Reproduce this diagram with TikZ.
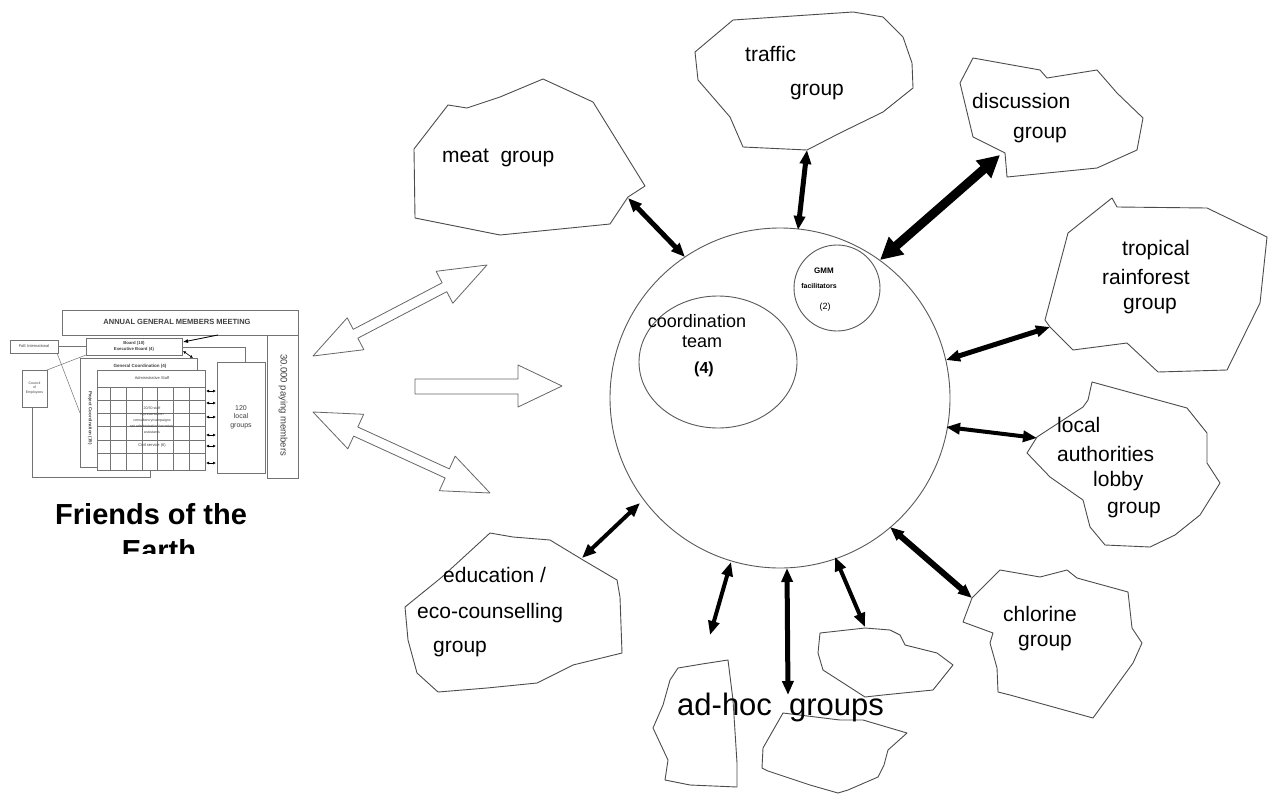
\documentclass[tikz,border=0pt]{standalone}
\usepackage{fontspec}
\setmainfont{Liberation Sans}
\usetikzlibrary{calc,arrows.meta}
\newcommand\hollowDouble[5]{%
  \path ($(#1)!#3!(#2)$) coordinate (hda) ($(#2)!#3!(#1)$) coordinate (hdb);
  \draw[hollow] (#1) -- ($(hda)!#5!90:(#2)$) -- ($(hda)!#4!90:(#2)$)
    -- ($(hdb)!#4!-90:(#1)$) -- ($(hdb)!#5!-90:(#1)$) -- (#2)
    -- ($(hdb)!#5!90:(#1)$) -- ($(hdb)!#4!90:(#1)$)
    -- ($(hda)!#4!-90:(#2)$) -- ($(hda)!#5!-90:(#2)$) -- cycle;}
\begin{document}
\begin{tikzpicture}[x=1pt,y=-1pt,
  blob/.style={draw=black!70, line width=0.9pt, line join=round},
  ring/.style={draw=black!65, line width=0.9pt},
  lbl/.style={anchor=base west, inner sep=0, font=\fontsize{21}{25}\selectfont},
  clbl/.style={anchor=base, inner sep=0, font=\fontsize{18}{22}\selectfont},
  hollow/.style={draw=black!60, line width=0.8pt, fill=white, line join=round},
  link/.style={draw=black, line width=#1, {Triangle[length=14pt,width=11pt]}-{Triangle[length=14pt,width=11pt]}},
  oc/.style={draw=black!55, line width=0.5pt, fill=white},
  ocl/.style={draw=black!55, line width=0.5pt},
  oct/.style={inner sep=0, font=\fontsize{4}{5}\selectfont, text=black!75}]
\useasboundingbox (0,0) rectangle (1268,800);
\fill[white] (0,0) rectangle (1268,800);

% ---------------- organisation chart ----------------
\draw[ocl] (32,407) -- (32,477) -- (150,477) -- (150,470);
\draw[oc] (267,335) rectangle (298,478);
\node[oc, minimum width=236pt, minimum height=25pt, anchor=north west] (agmm) at (62,310) {};
\node[oct, font=\bfseries\fontsize{7.5}{8}\selectfont] at (177,322) {ANNUAL GENERAL MEMBERS MEETING};
\draw[ocl] (58,346) -- (86,346);
\draw[ocl] (86,355) -- (47,370);
\draw[ocl] (57,353) -- (80,413);
\draw[ocl] (182,347) -- (245,347) -- (245,362);
\node[oc, minimum width=48pt, minimum height=111pt, anchor=north west] (loc) at (217,362) {};
\node[oct, font=\fontsize{7}{8.5}\selectfont, align=center] at (241,417) {120\\local\\groups};
\node[oc, minimum width=117pt, minimum height=109pt, anchor=north west] (gc) at (80,358) {};
\node[oct, font=\bfseries\fontsize{4.5}{5}\selectfont] at (140,366) {General Coordination (4)};
\node[oct, font=\bfseries\fontsize{4.5}{5}\selectfont, rotate=-90] at (90,418) {Project Coordination (15)};
\node[oc, minimum width=108pt, minimum height=100pt, anchor=north west] (grid) at (97,370) {};
\foreach \yy in {387,400,413,426,440,453} \draw[ocl] (97,\yy) -- (205,\yy);
\foreach \xx in {110,126,142,157,173,189} \draw[ocl] (\xx,387) -- (\xx,470);
\node[oct] at (152,378) {Administrative Staff};
\node[oct, align=center, font=\fontsize{3.6}{6}\selectfont] at (152,420) {20/30 staff\\representation\\consultancy/campaigns\\net administration/secretary\\assistants};
\node[oct] at (152,445) {Civil service (6)};
\node[oc, minimum width=96pt, minimum height=17pt, anchor=north west] (board) at (86,338) {};
\node[oct, font=\bfseries\fontsize{4.3}{5}\selectfont, align=center] at (134,346.5) {Board (10)\\[1pt]Executive Board (4)};
\node[oc, minimum width=48pt, minimum height=13pt, anchor=north west] (foei) at (10,340) {};
\node[oct] at (34,346.5) {FoE International};
\node[oc, minimum width=25pt, minimum height=37pt, anchor=north west] (coe) at (22,370) {};
\node[oct, font=\fontsize{3.5}{4.5}\selectfont, align=center] at (34.5,388) {Council\\of\\Employees};
\node[oct, font=\fontsize{9.5}{10}\selectfont, rotate=-90] at (283,405) {30.000 paying members};
\coordinate (ar1) at (218,335); \coordinate (ar2) at (183,342);
\draw[line width=0.8pt, -{Latex[length=5pt,width=4pt]}] (ar1) -- (ar2);
\coordinate (ar3) at (183,351); \coordinate (ar4) at (193,358);
\draw[line width=0.6pt, {Latex[length=3pt,width=3pt]}-{Latex[length=3pt,width=3pt]}] (ar3) -- (ar4);
\foreach \yy in {391,403,417,435,446,463}
  \draw[line width=0.6pt, {Latex[length=3pt,width=3pt]}-{Latex[length=3pt,width=3pt]}] (206,\yy) -- (216,\yy);

\node[anchor=base west, inner sep=0, font=\bfseries\fontsize{29}{33}\selectfont] (foe) at (55,524) {Friends of the};
\begin{scope}
  \clip (0,530) rectangle (320,553);
  \node[anchor=base, inner sep=0, font=\bfseries\fontsize{29}{33}\selectfont] (earth) at (159,560) {Earth};
\end{scope}

% ---------------- hollow arrows ----------------
\coordinate (ha1) at (313,356); \coordinate (hb1) at (487,265);
\hollowDouble{ha1}{hb1}{48pt}{5pt}{18pt}
\coordinate (ha2) at (313,412); \coordinate (hb2) at (490,493);
\hollowDouble{ha2}{hb2}{47pt}{5pt}{19pt}
\draw[hollow] (415,379) -- (518,379) -- (518,365) -- (562,386) -- (518,407) -- (518,394) -- (415,394) -- cycle;

% ---------------- circles ----------------
\node[ring, circle, minimum size=340pt, inner sep=0] (main) at (780,398) {};
\draw[ring] (718,362) ellipse [x radius=79, y radius=66];
\node[ring, circle, minimum size=86pt, inner sep=0] (gmm) at (837,288) {};
\node[clbl] at (697,327) {coordination};
\node[clbl] at (702,347) {team};
\node[clbl, font=\bfseries\fontsize{16}{20}\selectfont] at (704,373) {(4)};
\node[anchor=base, inner sep=0, font=\bfseries\fontsize{8}{9}\selectfont] at (824,273) {GMM};
\node[anchor=base, inner sep=0, font=\bfseries\fontsize{7}{9}\selectfont] at (819,288) {facilitators};
\node[anchor=base, inner sep=0, font=\fontsize{9}{10}\selectfont] at (825,309) {(2)};

% ---------------- group blobs ----------------
% meat
\draw[blob] (448,105) -- (467,108) -- (500,97) -- (543,79) -- (593,102) -- (645,186) -- (628,197) -- (610,224) -- (500,235) -- (415,218) -- (414,149) -- cycle;
\node[lbl] at (442,162) {meat\ \ group};
% traffic
\draw[blob] (695,52) -- (733,20) -- (853,12) -- (883,17) -- (903,37) -- (912,63) -- (913,88) -- (883,112) -- (840,133) -- (807,150) -- (743,147) -- (730,117) -- (698,80) -- cycle;
\node[lbl] at (745,62) {traffic};
\node[lbl] at (790,95) {group};
% discussion
\draw[blob] (973,58) -- (1040,70) -- (1047,78) -- (1097,70) -- (1117,93) -- (1143,118) -- (1137,150) -- (1097,168) -- (1007,177) -- (1005,153) -- (973,137) -- (960,83) -- cycle;
\node[lbl] at (972,108) {discussion};
\node[lbl] at (1013,138) {group};
% tropical rainforest
\draw[blob] (1068,233) -- (1112,198) -- (1117,207) -- (1207,208) -- (1267,237) -- (1260,303) -- (1227,370) -- (1158,372) -- (1127,343) -- (1073,350) -- (1050,327) -- (1045,320) -- cycle;
\node[lbl] at (1122,255) {tropical};
\node[lbl] at (1102,284) {rainforest};
\node[lbl] at (1123,309) {group};
% local authorities
\draw[blob] (1092,382) -- (1187,408) -- (1207,433) -- (1207,463) -- (1220,483) -- (1200,515) -- (1175,535) -- (1150,547) -- (1105,545) -- (1090,527) -- (1083,500) -- (1050,477) -- (1027,453) -- (1037,437) -- (1083,407) -- (1088,400) -- cycle;
\node[lbl] at (1057,432) {local};
\node[lbl] at (1057,461) {authorities};
\node[lbl] at (1093,486) {lobby};
\node[lbl] at (1107,513) {group};
% chlorine
\draw[blob] (1000,570) -- (1040,577) -- (1067,570) -- (1077,578) -- (1128,592) -- (1132,628) -- (1142,643) -- (1133,663) -- (1093,718) -- (1010,695) -- (998,692) -- (997,668) -- (990,643) -- (993,633) -- (963,622) -- (972,598) -- cycle;
\node[lbl] at (1003,621) {chlorine};
\node[lbl] at (1018,646) {group};
% education
\draw[blob] (490,533) -- (513,537) -- (550,540) -- (583,560) -- (617,580) -- (620,597) -- (622,653) -- (573,665) -- (537,683) -- (487,688) -- (438,692) -- (417,673) -- (408,640) -- (405,607) -- (442,577) -- cycle;
\node[lbl] at (443,582) {education /};
\node[lbl] at (417,618) {eco-counselling};
\node[lbl] at (433,652) {group};
% ad-hoc blobs
\draw[blob] (678,668) -- (702,664) -- (728,660) -- (733,700) -- (737,763) -- (737,787) -- (690,785) -- (665,780) -- (668,760) -- (653,728) -- (663,705) -- (670,680) -- cycle;
\draw[blob] (820,633) -- (865,628) -- (890,630) -- (900,635) -- (905,645) -- (937,653) -- (953,665) -- (933,690) -- (883,695) -- (865,697) -- (823,670) -- (818,653) -- cycle;
\draw[blob] (783,713) -- (840,720) -- (863,720) -- (907,733) -- (888,750) -- (884,765) -- (878,777) -- (848,790) -- (838,793) -- (810,785) -- (768,771) -- (762,768) -- (763,748) -- cycle;
\node[anchor=base west, inner sep=0, font=\fontsize{31}{35}\selectfont] at (677,715) {ad-hoc\ \ groups};

% ---------------- connectors ----------------
\coordinate (c-meat) at (685,257);   \coordinate (g-meat) at (628,198);
\coordinate (c-traf) at (798,230);   \coordinate (g-traf) at (807,150);
\coordinate (c-disc) at (880,260);   \coordinate (g-disc) at (1000,155);
\coordinate (c-trop) at (946,360);   \coordinate (g-trop) at (1050,327);
\coordinate (c-loca) at (946,427);   \coordinate (g-loca) at (1037,438);
\coordinate (c-chlo) at (890,527);   \coordinate (g-chlo) at (972,598);
\coordinate (c-ahr) at (835,557);    \coordinate (g-ahr) at (865,627);
\coordinate (c-ahc) at (787,568);    \coordinate (g-ahc) at (788,695);
\coordinate (c-ahl) at (731,562);    \coordinate (g-ahl) at (710,635);
\coordinate (c-edu) at (640,503);    \coordinate (g-edu) at (582,558);
\draw[link=5pt] (c-meat) -- (g-meat);
\draw[link=5pt] (c-traf) -- (g-traf);
\draw[draw=black, line width=9pt, {Triangle[length=22pt,width=22pt]}-{Triangle[length=22pt,width=22pt]}] (c-disc) -- (g-disc);
\draw[link=5pt] (c-trop) -- (g-trop);
\draw[link=4pt] (c-loca) -- (g-loca);
\draw[link=6pt] (c-chlo) -- (g-chlo);
\draw[link=4pt] (c-ahr) -- (g-ahr);
\draw[link=5pt] (c-ahc) -- (g-ahc);
\draw[link=4pt] (c-ahl) -- (g-ahl);
\draw[link=4pt] (c-edu) -- (g-edu);
\end{tikzpicture}
\end{document}
